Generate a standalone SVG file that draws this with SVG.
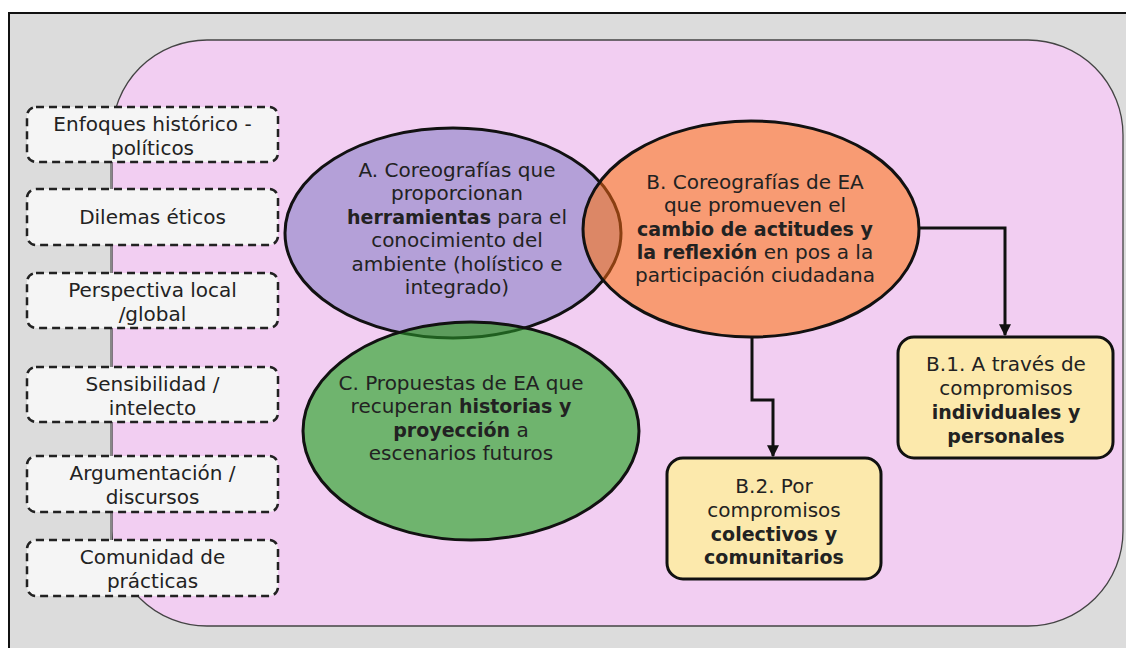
<svg xmlns="http://www.w3.org/2000/svg" width="1126" height="648" viewBox="0 0 1126 648">
<defs>
<style>
text{font-family:"DejaVu Sans","Verdana",sans-serif;font-size:20px;fill:#222;text-anchor:middle}
.b{font-weight:bold;font-size:19px}
.side{fill:#f5f5f5;stroke:#222;stroke-width:2.5;stroke-dasharray:8 5}
.res{fill:#fce9ac;stroke:#111;stroke-width:3}
.conn{fill:none;stroke:#111;stroke-width:3}
</style>
<marker id="ah" viewBox="0 0 10 10" refX="9" refY="5" markerWidth="4" markerHeight="4" orient="auto" markerUnits="strokeWidth">
<path d="M0,0 L10,5 L0,10 z" fill="#111"/>
</marker>
<clipPath id="clipB"><ellipse cx="751" cy="229" rx="168" ry="108"/></clipPath>
<clipPath id="clipC"><ellipse cx="471" cy="431" rx="168" ry="109"/></clipPath>
</defs>
<rect x="0" y="0" width="1126" height="648" fill="#ffffff"/>
<rect x="9" y="13" width="1130" height="650" fill="#dcdcdc" stroke="#111" stroke-width="2"/>
<rect x="112" y="40" width="1011" height="586" rx="95" ry="95" fill="#f2cef2" stroke="#444" stroke-width="1.3"/>

<g id="connectors">
<line x1="111" y1="162" x2="111" y2="540" stroke="#888" stroke-width="2"/>
<polyline class="conn" points="918,228 1005,228 1005,335" marker-end="url(#ah)"/>
<polyline class="conn" points="752,337 752,400 773,400 773,456" marker-end="url(#ah)"/>
</g>

<g id="side1"><rect class="side" x="27" y="107" width="251" height="55" rx="9"/>
<text x="152.5" y="131">Enfoques histórico -</text><text x="152.5" y="155">políticos</text></g>
<g id="side2"><rect class="side" x="27" y="189" width="251" height="56" rx="9"/>
<text x="152.5" y="224">Dilemas éticos</text></g>
<g id="side3"><rect class="side" x="27" y="273" width="251" height="55" rx="9"/>
<text x="152.5" y="297">Perspectiva local</text><text x="152.5" y="321">/global</text></g>
<g id="side4"><rect class="side" x="27" y="367" width="251" height="55" rx="9"/>
<text x="152.5" y="391">Sensibilidad /</text><text x="152.5" y="415">intelecto</text></g>
<g id="side5"><rect class="side" x="27" y="456" width="251" height="56" rx="9"/>
<text x="152.5" y="480">Argumentación /</text><text x="152.5" y="504">discursos</text></g>
<g id="side6"><rect class="side" x="27" y="540" width="251" height="56" rx="9"/>
<text x="152.5" y="564">Comunidad de</text><text x="152.5" y="588">prácticas</text></g>

<g id="ellipseA">
<ellipse cx="453" cy="233" rx="168" ry="105" fill="#b4a0d8" stroke="#111" stroke-width="3"/>
</g>
<g id="ellipseB">
<ellipse cx="751" cy="229" rx="168" ry="108" fill="#f89b73"/>
<g clip-path="url(#clipB)"><ellipse cx="453" cy="233" rx="168" ry="105" fill="#dc8766" stroke="#8a3f12" stroke-width="3"/></g>
<ellipse cx="751" cy="229" rx="168" ry="108" fill="none" stroke="#111" stroke-width="3"/>
</g>
<g id="ellipseC">
<ellipse cx="471" cy="431" rx="168" ry="109" fill="#6fb46e"/>
<g clip-path="url(#clipC)"><ellipse cx="453" cy="233" rx="168" ry="105" fill="#5c9c5c" stroke="#1f5e1f" stroke-width="3"/></g>
<ellipse cx="471" cy="431" rx="168" ry="109" fill="none" stroke="#111" stroke-width="3"/>
</g>

<g id="textA">
<text x="457" y="177">A. Coreografías que</text>
<text x="457" y="200">proporcionan</text>
<text x="457" y="224"><tspan class="b">herramientas</tspan> para el</text>
<text x="457" y="247">conocimiento del</text>
<text x="457" y="271">ambiente (holístico e</text>
<text x="457" y="294">integrado)</text>
</g>
<g id="textB">
<text x="755" y="189">B. Coreografías de EA</text>
<text x="755" y="212">que promueven el</text>
<text x="755" y="236" class="b">cambio de actitudes y</text>
<text x="755" y="259"><tspan class="b">la reflexión</tspan> en pos a la</text>
<text x="755" y="282">participación ciudadana</text>
</g>
<g id="textC">
<text x="461" y="390">C. Propuestas de EA que</text>
<text x="461" y="413">recuperan <tspan class="b">historias y</tspan></text>
<text x="461" y="437"><tspan class="b">proyección</tspan> a</text>
<text x="461" y="460">escenarios futuros</text>
</g>

<g id="B1">
<rect class="res" x="898" y="337" width="215" height="121" rx="16"/>
<text x="1006" y="371">B.1. A través de</text>
<text x="1006" y="395">compromisos</text>
<text x="1006" y="419" class="b">individuales y</text>
<text x="1006" y="443" class="b">personales</text>
</g>
<g id="B2">
<rect class="res" x="667" y="458" width="214" height="121" rx="16"/>
<text x="774" y="493">B.2. Por</text>
<text x="774" y="517">compromisos</text>
<text x="774" y="541" class="b">colectivos y</text>
<text x="774" y="564" class="b">comunitarios</text>
</g>
</svg>
